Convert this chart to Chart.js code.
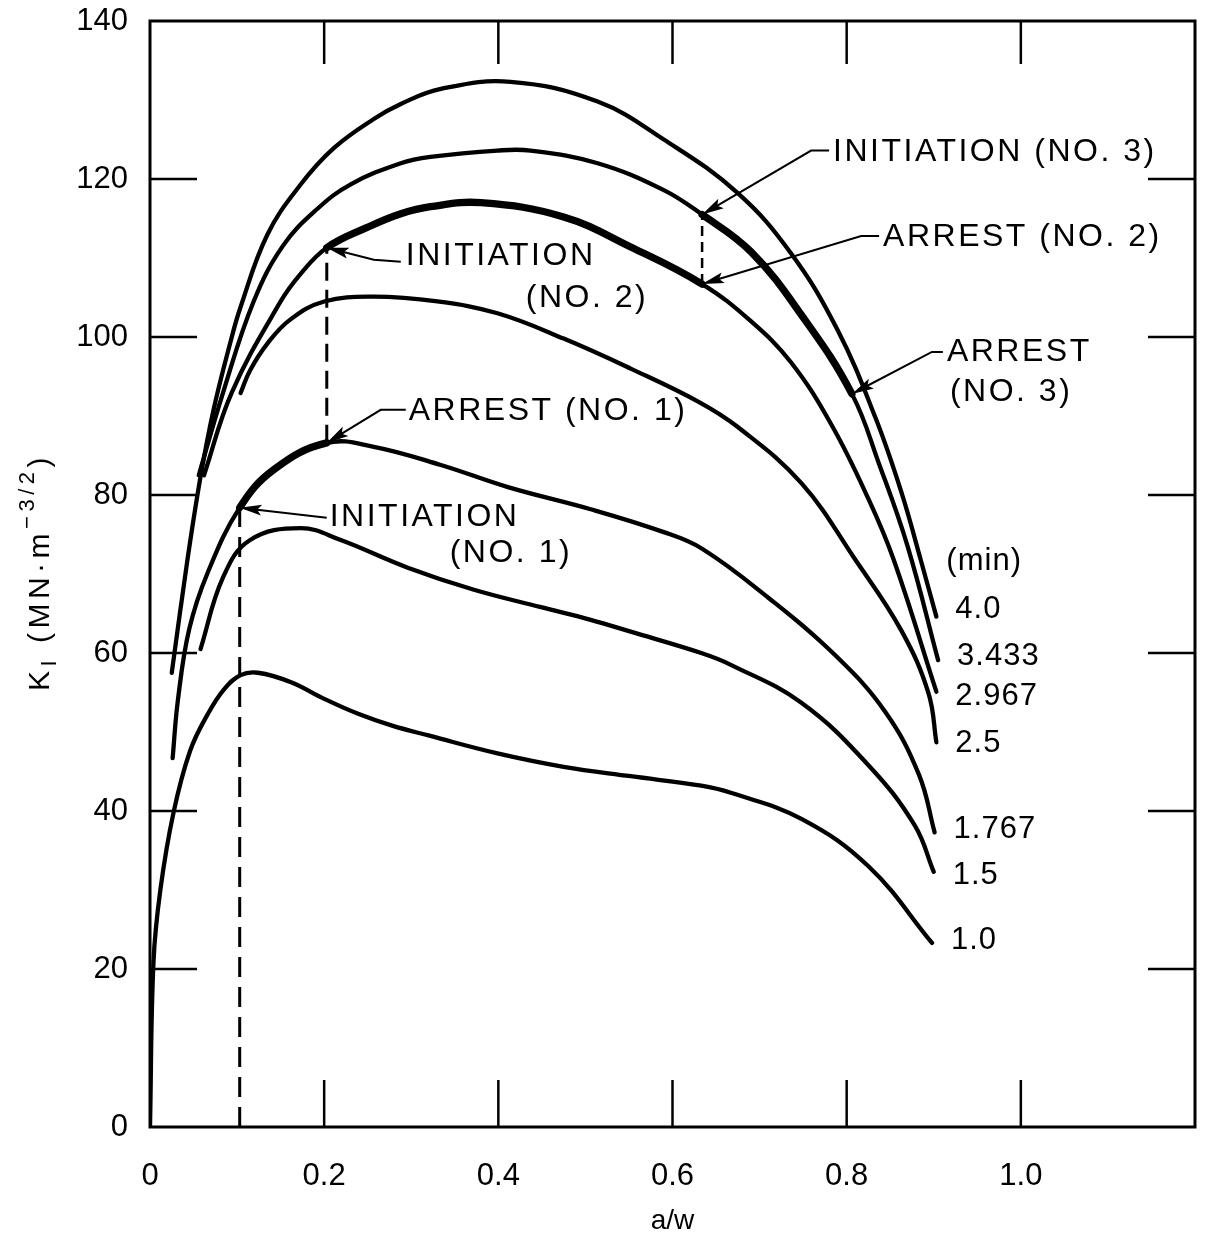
<!DOCTYPE html>
<html><head><meta charset="utf-8">
<script src="https://cdn.jsdelivr.net/npm/chart.js@4.4.0/dist/chart.umd.min.js"></script>
<style>html,body{margin:0;padding:0;background:#fff;}canvas{display:block;}</style>
</head><body>
<canvas id="c" width="1213" height="1235"></canvas>
<script>
// ---- tick labels ----
const xTickValues = [0, 0.2, 0.4, 0.6, 0.8, 1.0];
const xTickLabels = ['0', '0.2', '0.4', '0.6', '0.8', '1.0'];
const yTickValues = [0, 20, 40, 60, 80, 100, 120, 140];
const yTickLabels = ['0', '20', '40', '60', '80', '100', '120', '140'];

// ---- series (time in min) ----
const timeLabels = ['4.0', '3.433', '2.967', '2.5', '1.767', '1.5', '1.0'];

const a_4_0 = [0.025,0.043,0.058,0.073,0.092,0.104,0.135,0.173,0.211,0.257,0.288,0.334,0.414,0.514,0.59,0.674,0.736,0.789,0.833,0.863,0.885,0.903];
const k_4_0 = [57.5,71.8,82.3,90.8,99.2,103.8,113.0,119.3,123.9,127.6,129.5,131.4,132.3,129.8,125.0,118.3,110.6,101.0,89.8,80.3,71.8,64.6];

const a_3_433 = [0.056,0.084,0.119,0.153,0.192,0.23,0.288,0.322,0.399,0.437,0.514,0.59,0.634,0.69,0.748,0.806,0.837,0.87,0.905];
const k_3_433 = [82.5,93.0,104.5,111.6,116.2,119.3,122.0,122.8,123.6,123.6,122.0,118.6,115.5,110.8,102.8,92.8,84.0,73.5,59.1];

const a_2_967 = [0.062,0.094,0.15,0.173,0.203,0.25,0.288,0.322,0.38,0.475,0.552,0.634,0.69,0.736,0.783,0.825,0.854,0.903];
const k_2_967 = [82.5,93.0,104.5,108.0,111.3,113.9,115.6,116.5,117.0,115.2,111.4,106.7,102.0,96.8,88.8,79.5,71.8,55.1];

const a_2_5 = [0.104,0.115,0.135,0.161,0.2,0.257,0.33,0.399,0.475,0.552,0.63,0.675,0.748,0.81,0.863,0.894,0.903];
const k_2_5 = [92.9,95.8,99.2,102.2,104.5,105.1,104.5,103.0,99.8,96.0,91.8,88.6,81.5,71.8,62.8,54.9,48.7];

const a_1_767 = [0.026,0.032,0.045,0.066,0.103,0.142,0.203,0.257,0.334,0.411,0.506,0.59,0.634,0.71,0.786,0.844,0.883,0.901];
const k_1_767 = [46.7,54.0,63.0,70.1,78.4,83.2,86.6,86.1,83.8,81.0,78.2,75.3,73.2,67.0,59.8,52.6,44.6,37.3];

const a_1_5 = [0.058,0.084,0.115,0.173,0.219,0.296,0.372,0.449,0.506,0.552,0.633,0.667,0.748,0.825,0.878,0.9];
const k_1_5 = [60.5,69.6,74.3,75.8,74.3,70.8,68.0,65.8,64.2,62.7,60.0,58.5,53.7,45.8,38.2,32.3];

const a_1_0 = [0,0.004,0.012,0.027,0.046,0.066,0.085,0.104,0.124,0.162,0.2,0.239,0.278,0.322,0.399,0.475,0.552,0.633,0.667,0.748,0.825,0.898];
const k_1_0 = [0,20.9,30.1,39.8,47.6,52.2,55.4,57.2,57.5,56.3,54.2,52.3,50.8,49.5,47.3,45.6,44.4,43.2,42.3,39.0,33.0,23.3];

// ---- crack events ----
const initiationA = [0.103, 0.203, 0.634];
const initiationK = [78.4, 111.3, 115.5];
const arrestA = [0.203, 0.634, 0.806];
const arrestK = [86.6, 106.7, 92.8];

// ---- build ----
const FONT = "'Liberation Sans', Arial, Helvetica, sans-serif";
const NORMAL = 4.3, THICK = 7.3;
function pts(a, k) { return a.map((v, i) => ({ x: v, y: k[i] })); }
function thickBetween(lo, hi) {
  return c => (c.p0.parsed.x >= lo - 1e-6 && c.p1.parsed.x <= hi + 1e-6) ? THICK : NORMAL;
}
const series = [
  { a: a_4_0, k: k_4_0, run: null },
  { a: a_3_433, k: k_3_433, run: 2 },
  { a: a_2_967, k: k_2_967, run: 1 },
  { a: a_2_5, k: k_2_5, run: null },
  { a: a_1_767, k: k_1_767, run: 0 },
  { a: a_1_5, k: k_1_5, run: null },
  { a: a_1_0, k: k_1_0, run: null }
];
const datasets = series.map((s, i) => {
  const ds = {
    label: timeLabels[i] + ' min',
    data: pts(s.a, s.k),
    borderColor: '#000', borderWidth: NORMAL, pointRadius: 0,
    tension: 0.4, borderCapStyle: 'round', borderJoinStyle: 'round',
    fill: false
  };
  if (s.run !== null) ds.segment = { borderWidth: thickBetween(initiationA[s.run], arrestA[s.run]) };
  return ds;
});
datasets.push({ label: 'drop1', data: [{ x: initiationA[0], y: 0 }, { x: initiationA[0], y: initiationK[0] }],
  borderColor: '#000', borderWidth: 3, borderDash: [20, 10], pointRadius: 0, tension: 0 });
datasets.push({ label: 'jump1', data: [{ x: arrestA[0], y: arrestK[0] }, { x: initiationA[1], y: initiationK[1] }],
  borderColor: '#000', borderWidth: 3, borderDash: [18, 9], pointRadius: 0, tension: 0 });
datasets.push({ label: 'jump2', data: [{ x: arrestA[1], y: arrestK[1] }, { x: initiationA[2], y: initiationK[2] }],
  borderColor: '#000', borderWidth: 2.5, borderDash: [10, 6], pointRadius: 0, tension: 0 });

const noteDefs = [
  { at: 'init', i: 0, lines: ['INITIATION', '(NO. 1)'], tx: 90, ty: 10, indent: [0, 120], gap: 36, path: [[87, 10]] },
  { at: 'arrest', i: 0, lines: ['ARREST (NO. 1)'], tx: 82, ty: -32, path: [[79, -33], [54, -33]] },
  { at: 'init', i: 1, lines: ['INITIATION', '(NO. 2)'], tx: 79, ty: 8, indent: [0, 120], gap: 42, path: [[74, 14], [47, 12]] },
  { at: 'init', i: 2, lines: ['INITIATION (NO. 3)'], tx: 131, ty: -62, path: [[127, -64], [109, -64]] },
  { at: 'arrest', i: 1, lines: ['ARREST (NO. 2)'], tx: 181, ty: -47, path: [[177, -48], [159, -48]] },
  { at: 'arrest', i: 2, lines: ['ARREST', '(NO. 3)'], tx: 95, ty: -42, indent: [0, 3], gap: 40, path: [[91, -42], [80, -42]] }
];
const endLabelDy = [-7, -4, 5, 1, -3, 4, -2];

const decor = {
  id: 'decor',
  afterDatasetsDraw(chart) {
    const { ctx, chartArea: ca, scales: { x, y } } = chart;
    ctx.save();
    ctx.strokeStyle = '#000'; ctx.fillStyle = '#000';
    const seg = (x1, y1, x2, y2) => { ctx.beginPath(); ctx.moveTo(x1, y1); ctx.lineTo(x2, y2); ctx.stroke(); };
    ctx.lineWidth = 3;
    ctx.strokeRect(ca.left, ca.top, ca.right - ca.left, ca.bottom - ca.top);
    ctx.lineWidth = 2.5;
    const TL = 47;
    y.ticks.forEach(t => {
      if (t.value <= 0 || t.value >= 140) return;
      const py = y.getPixelForValue(t.value);
      seg(ca.left, py, ca.left + TL, py);
      seg(ca.right, py, ca.right - TL, py);
    });
    x.ticks.forEach(t => {
      if (t.value <= 0) return;
      const px = x.getPixelForValue(t.value);
      seg(px, ca.bottom, px, ca.bottom - TL);
      seg(px, ca.top, px, ca.top + TL - 4);
    });
    // annotations
    ctx.font = '32px ' + FONT;
    ctx.textBaseline = 'middle'; ctx.textAlign = 'left';
    try { ctx.letterSpacing = '2.5px'; } catch (e) {}
    noteDefs.forEach(n => {
      const a = n.at === 'init' ? initiationA[n.i] : arrestA[n.i];
      const k = n.at === 'init' ? initiationK[n.i] : arrestK[n.i];
      const tx = x.getPixelForValue(a), ty = y.getPixelForValue(k);
      n.lines.forEach((s, j) => {
        const ind = n.indent ? n.indent[j] : 0;
        ctx.fillText(s, tx + n.tx + ind, ty + n.ty + j * (n.gap || 0));
      });
      ctx.lineWidth = 2;
      ctx.beginPath();
      ctx.moveTo(tx + n.path[0][0], ty + n.path[0][1]);
      for (let j = 1; j < n.path.length; j++) ctx.lineTo(tx + n.path[j][0], ty + n.path[j][1]);
      const last = n.path[n.path.length - 1];
      const lx = tx + last[0], ly = ty + last[1];
      let dx = tx - lx, dy = ty - ly; const L = Math.hypot(dx, dy); dx /= L; dy /= L;
      const AL = 22, AW = 5.5;
      ctx.lineTo(tx - dx * AL * 0.6, ty - dy * AL * 0.6);
      ctx.stroke();
      ctx.beginPath();
      ctx.moveTo(tx, ty);
      ctx.lineTo(tx - dx * AL - dy * AW, ty - dy * AL + dx * AW);
      ctx.lineTo(tx - dx * AL * 0.8, ty - dy * AL * 0.8);
      ctx.lineTo(tx - dx * AL + dy * AW, ty - dy * AL - dx * AW);
      ctx.closePath(); ctx.fill();
    });
    // curve end labels
    ctx.font = '31px ' + FONT;
    try { ctx.letterSpacing = '1px'; } catch (e) {}
    series.forEach((s, i) => {
      const ea = s.a[s.a.length - 1], ek = s.k[s.k.length - 1];
      const px = x.getPixelForValue(ea), py = y.getPixelForValue(ek);
      ctx.fillText(timeLabels[i], px + 19, py + endLabelDy[i]);
      if (i === 0) ctx.fillText('(min)', px + 10, py - 55);
    });
    // y axis title  K_I (MN·m^-3/2)
    try { ctx.letterSpacing = '4.5px'; } catch (e) {}
    const parts = [
      { t: 'K', f: 30, d: 0 }, { t: 'I', f: 22, d: 9 }, { t: ' (MN\u00B7m', f: 30, d: 0 },
      { t: '\u22123/2', f: 22, d: -13 }, { t: ')', f: 30, d: 0 }
    ];
    let total = 0;
    parts.forEach(p => { ctx.font = p.f + 'px ' + FONT; p.w = ctx.measureText(p.t).width; total += p.w; });
    ctx.translate(41, (ca.top + ca.bottom) / 2 - 2);
    ctx.rotate(-Math.PI / 2);
    let cx = -total / 2;
    parts.forEach(p => { ctx.font = p.f + 'px ' + FONT; ctx.fillText(p.t, cx, p.d); cx += p.w; });
    ctx.restore();
  }
};

new Chart(document.getElementById('c'), {
  type: 'line',
  data: { datasets },
  options: {
    responsive: false, animation: false, devicePixelRatio: 1,
    layout: { padding: { left: 0, right: 18, top: 21, bottom: 0 } },
    plugins: { legend: { display: false }, tooltip: { enabled: false } },
    scales: {
      x: {
        type: 'linear', min: 0, max: 1.2,
        afterBuildTicks: s => { s.ticks = xTickValues.map(v => ({ value: v })); },
        afterFit: s => { s.height = 108; s.paddingLeft = 0; s.paddingRight = 0; },
        grid: { display: false, drawTicks: false }, border: { display: false },
        ticks: { color: '#000', padding: 31, maxRotation: 0, font: { size: 31, family: FONT },
          callback: v => xTickLabels[xTickValues.indexOf(v)] },
        title: { display: true, text: 'a/w', color: '#000', padding: 0, font: { size: 28, family: FONT, lineHeight: 1 } }
      },
      y: {
        type: 'linear', min: 0, max: 140,
        afterBuildTicks: s => { s.ticks = yTickValues.map(v => ({ value: v })); },
        afterFit: s => { s.width = 150; s.paddingTop = 0; s.paddingBottom = 0; },
        grid: { display: false, drawTicks: false }, border: { display: false },
        ticks: { color: '#000', padding: 22, font: { size: 31, family: FONT },
          callback: v => yTickLabels[yTickValues.indexOf(v)] }
      }
    }
  },
  plugins: [decor]
});
</script>
</body></html>
